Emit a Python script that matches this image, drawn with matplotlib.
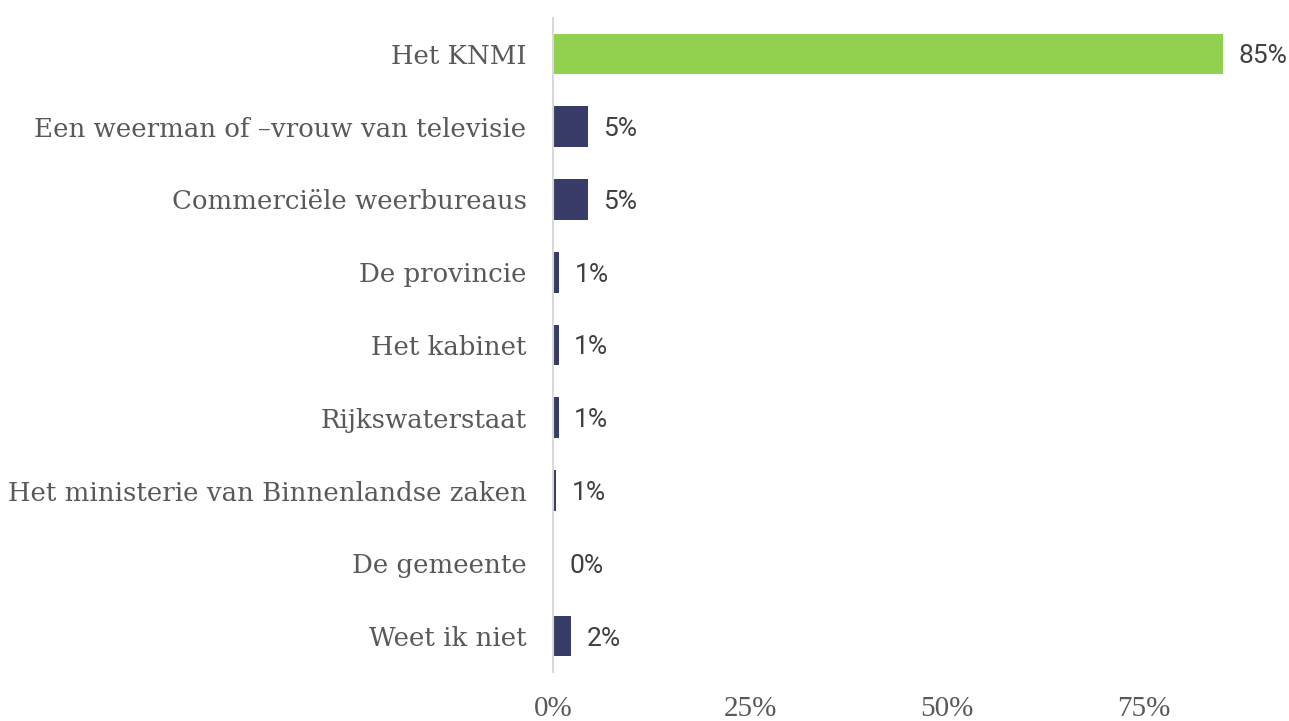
import matplotlib.pyplot as plt

categorieen = [
    "Het KNMI",
    "Een weerman of \u2013vrouw van televisie",
    "Commerciële weerbureaus",
    "De provincie",
    "Het kabinet",
    "Rijkswaterstaat",
    "Het ministerie van Binnenlandse zaken",
    "De gemeente",
    "Weet ik niet",
]
waarden = [85, 4.45, 4.45, 0.8, 0.7, 0.7, 0.4, 0.1, 2.3]
labels = ["85%", "5%", "5%", "1%", "1%", "1%", "1%", "0%", "2%"]
x_ticks = [0, 25, 50, 75]
x_ticklabels = ["0%", "25%", "50%", "75%"]

kleuren = ["#92D050"] + ["#383D68"] * (len(categorieen) - 1)

fig = plt.figure(figsize=(12.89, 7.21), dpi=100)
ax = fig.add_axes([553 / 1289, 1 - 672.4 / 721, (1223 - 553) / 1289, (672.4 - 17.6) / 721])

posities = list(range(len(categorieen)))
ax.barh(posities, waarden, height=0.56, color=kleuren)
ax.set_ylim(len(categorieen) - 0.5, -0.5)
ax.set_xlim(0, 85)

ax.set_yticks(posities)
ax.set_yticklabels(categorieen, family="DejaVu Serif", fontsize=18.7, color="#595959")
ax.set_xticks(x_ticks)
ax.set_xticklabels(x_ticklabels, family="Liberation Serif", fontsize=21, color="#595959")
ax.tick_params(axis="y", length=0, pad=19)
ax.tick_params(axis="x", length=0, pad=17)

for s in ["top", "right", "bottom"]:
    ax.spines[s].set_visible(False)
ax.spines["left"].set_color("#d9d9d9")
ax.spines["left"].set_linewidth(1.5)

for y, w, t in zip(posities, waarden, labels):
    ax.annotate(t, (w, y), xytext=(11, 0), textcoords="offset points",
                va="center_baseline", ha="left", family="Roboto", fontsize=19,
                color="#404040", annotation_clip=False)

fig.savefig("out.png", dpi=100)
